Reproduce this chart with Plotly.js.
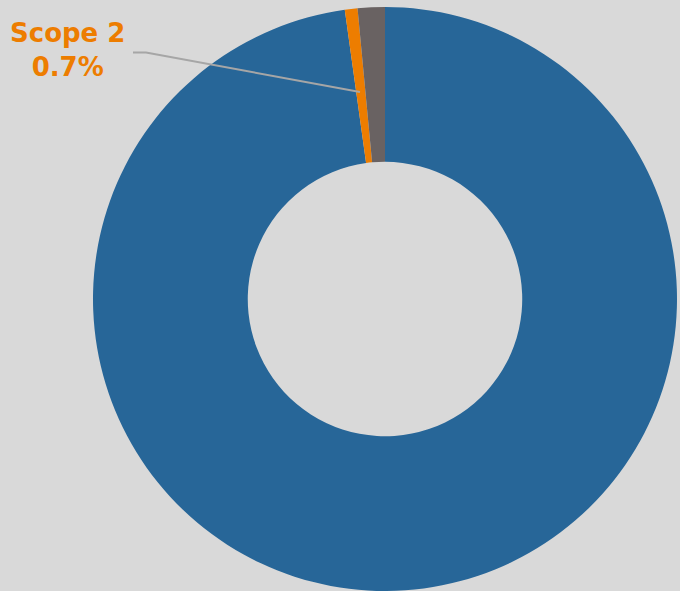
<!DOCTYPE html>
<html>
<head>
<meta charset="utf-8">
<script src="https://cdn.plot.ly/plotly-3.0.1.min.js"></script>
<style>html,body{margin:0;padding:0;background:#d9d9d9;}</style>
</head>
<body>
<div id="chart" style="width:680px;height:591px;"></div>
<script>
const labels = ['Scope 3', 'Scope 2', 'Scope 1'];
const values = [97.8, 0.7, 1.5];
const colors = ['#276698', '#ED7D00', '#696262'];
const labelIndex = 1;

const W = 680, H = 591;
function px(x) { return x / W; }
function py(y) { return 1 - y / H; }

const trace = {
  type: 'pie',
  labels: labels,
  values: values,
  sort: false,
  direction: 'clockwise',
  rotation: 0,
  hole: 0.47,
  textinfo: 'none',
  hoverinfo: 'label+percent',
  marker: { colors: colors, line: { width: 0 } },
  domain: { x: [92 / W, 678 / W], y: [0, 1] },
  showlegend: false
};

const layout = {
  width: W,
  height: H,
  margin: { l: 0, r: 0, t: 7, b: 0 },
  paper_bgcolor: '#d9d9d9',
  plot_bgcolor: '#d9d9d9',
  showlegend: false,
  annotations: [{
    xref: 'paper', yref: 'paper',
    x: px(67), y: py(44),
    xanchor: 'center', yanchor: 'middle',
    text: '<b>' + labels[labelIndex] + '<br>' + values[labelIndex].toFixed(1) + '%</b>',
    showarrow: false,
    align: 'center',
    font: { family: 'DejaVu Sans', size: 26, color: '#ED7D00' }
  }],
  shapes: [{
    type: 'path',
    xref: 'paper', yref: 'paper',
    path: 'M ' + px(133) + ',' + py(46) + ' L ' + px(146) + ',' + py(46) + ' L ' + px(360) + ',' + py(86),
    line: { color: '#a6a6a6', width: 2 }
  }]
};

Plotly.newPlot('chart', [trace], layout, { displayModeBar: false, staticPlot: true });
</script>
</body>
</html>
